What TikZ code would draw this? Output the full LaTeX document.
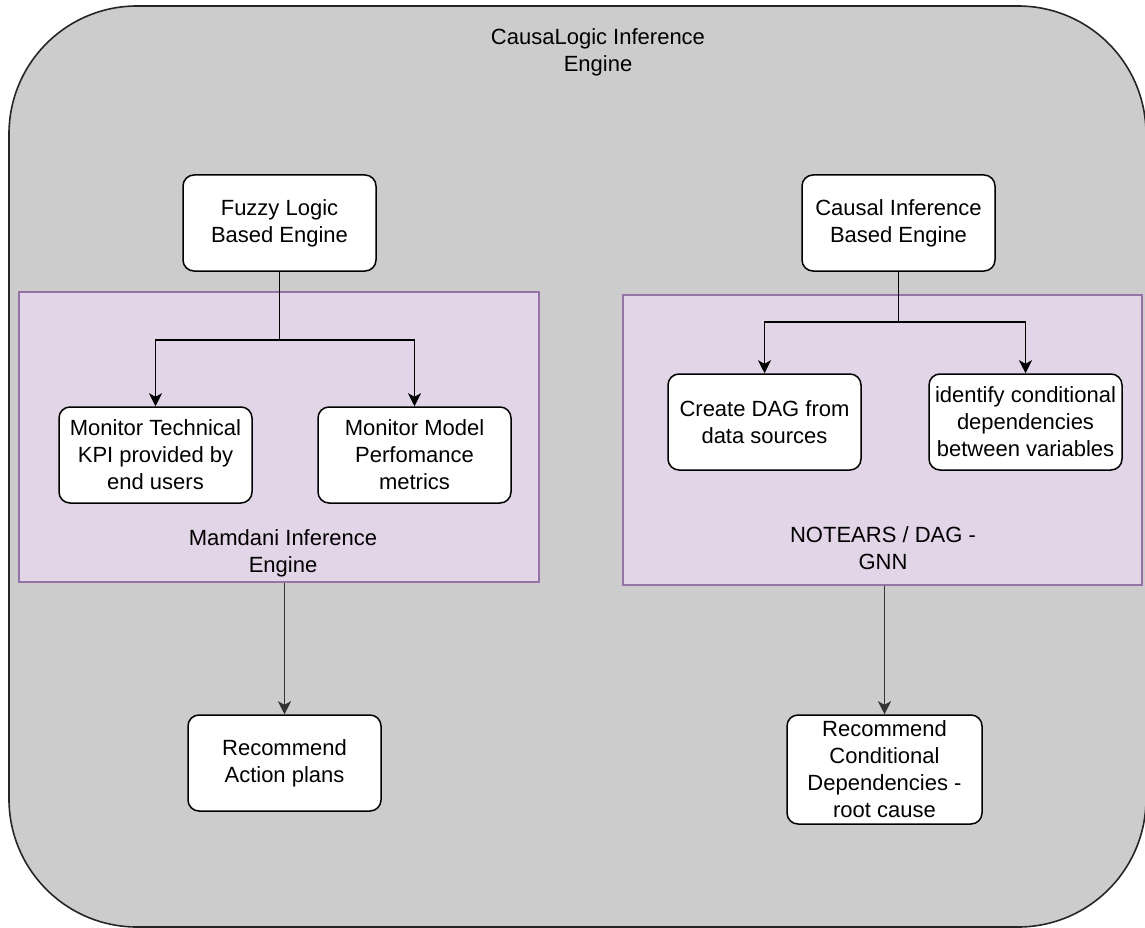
\documentclass[tikz,border=0pt]{standalone}
\usepackage{fontspec}
\setmainfont{Liberation Sans}
\usetikzlibrary{arrows.meta}
\definecolor{outerfill}{HTML}{CCCCCC}
\definecolor{purplefill}{HTML}{E1D5E7}
\definecolor{purpleline}{HTML}{9673A6}
\definecolor{lineclr}{HTML}{333333}
\begin{document}
\begin{tikzpicture}[x=1pt,y=-1pt,
  txt/.style={font=\fontsize{22}{27}\selectfont, align=center, text=black},
  box/.style={txt, draw=black, fill=white, rounded corners=11pt, line width=1.5pt,
              minimum width=193pt, minimum height=96pt, inner sep=0pt},
  lbl/.style={txt, inner sep=0pt},
  grp/.style={draw=purpleline, fill=purplefill, line width=1.2pt, inner sep=0pt},
  conn/.style={line width=1.6pt, draw=black, -{Stealth[length=13pt,width=13pt,inset=3.5pt]}},
  link/.style={line width=1.6pt, draw=black},
  conn2/.style={line width=1.9pt, draw=lineclr, -{Stealth[length=13pt,width=13pt,inset=3.5pt]}},
]
\useasboundingbox (0,0) rectangle (1145,928);
\begin{scope}
\clip (0,0) rectangle (1145,928);
\node[draw=black!85, fill=outerfill, line width=1.6pt, rounded corners=128pt,
      minimum width=1137pt, minimum height=921pt, inner sep=0pt] (engine) at (577.5,466.5) {};
\end{scope}
\node[lbl] (enginelbl) at (598,52) {CausaLogic Inference\\Engine};

% groups
\node[grp, minimum width=520pt, minimum height=290pt] (mamdani) at (279,437) {};
\node[grp, minimum width=519pt, minimum height=290pt] (notears) at (882.5,440) {};
\node[lbl] (mamdanilbl) at (283,553) {Mamdani Inference\\Engine};
\node[lbl] (notearslbl) at (883,548) {NOTEARS / DAG -\\GNN};

% nodes
\node[box] (fuzzy) at (279.5,223) {Fuzzy Logic\\Based Engine};
\node[box] (causal) at (898.5,223) {Causal Inference\\Based Engine};
\node[box] (mtk) at (155.5,455) {Monitor Technical\\KPI provided by\\end users};
\node[box] (mmp) at (414.5,455) {Monitor Model\\Perfomance\\metrics};
\node[box] (dag) at (764.5,422) {Create DAG from\\data sources};
\node[box] (icd) at (1025.5,422) {identify conditional\\dependencies\\between variables};
\node[box] (rap) at (284.5,763) {Recommend\\Action plans};
\node[box, minimum width=195pt, minimum height=109pt] (rcd) at (884.5,769.5) {Recommend\\Conditional\\Dependencies -\\root cause};

% connectors
\draw[link] (fuzzy.south) -- ++(0,68) coordinate (fj);
\draw[conn] (fj) -| (mtk.north);
\draw[conn] (fj) -| (mmp.north);
\draw[link] (causal.south) -- ++(0,50) coordinate (cj);
\draw[conn] (cj) -| (dag.north);
\draw[conn] (cj) -| (icd.north);
\draw[conn2] (rap.north |- mamdani.south) -- (rap.north);
\draw[conn2] (rcd.north |- notears.south) -- (rcd.north);
\end{tikzpicture}
\end{document}
